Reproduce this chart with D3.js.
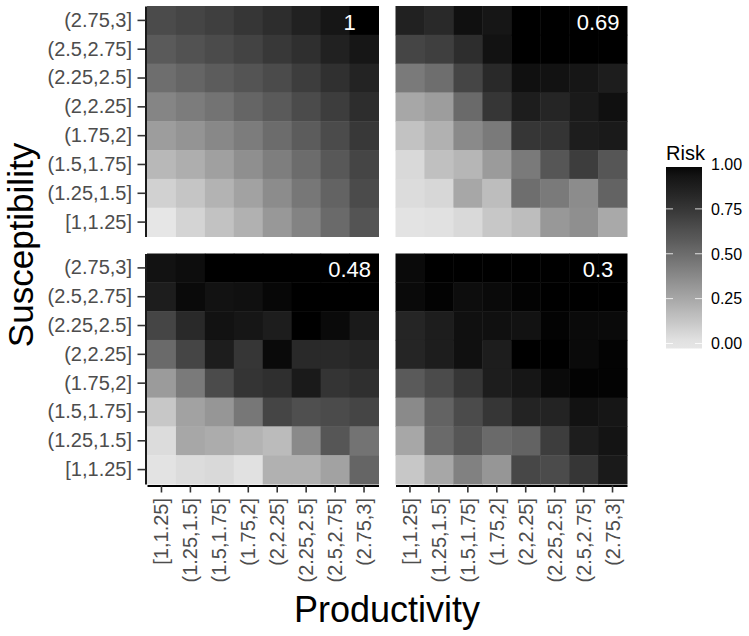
<!DOCTYPE html>
<html>
<head>
<meta charset="utf-8">
<script src="https://cdn.jsdelivr.net/npm/d3@7"></script>
<style>
  html, body { margin: 0; padding: 0; background: #fff; }
  svg { display: block; font-family: "Liberation Sans", Arial, sans-serif; }
</style>
</head>
<body>
<svg id="chart" width="749" height="636"></svg>
<script>
// ---- data ----
const prodLevels = ["[1,1.25]","(1.25,1.5]","(1.5,1.75]","(1.75,2]","(2,2.25]","(2.25,2.5]","(2.5,2.75]","(2.75,3]"];
const suscLevels = ["[1,1.25]","(1.25,1.5]","(1.5,1.75]","(1.75,2]","(2,2.25]","(2.25,2.5]","(2.5,2.75]","(2.75,3]"];
const panelLabels = ["1","0.69","0.48","0.3"];
const legendTicks = [0, 0.25, 0.5, 0.75, 1];

// rows listed from top (2.75,3] to bottom [1,1.25]; columns follow prodLevels
const risk_1 = [
  [0.65,0.68,0.71,0.75,0.80,0.86,0.92,1.00],
  [0.58,0.62,0.65,0.69,0.74,0.79,0.86,0.92],
  [0.49,0.53,0.57,0.61,0.65,0.72,0.78,0.85],
  [0.39,0.43,0.47,0.53,0.58,0.65,0.72,0.80],
  [0.29,0.33,0.38,0.43,0.50,0.57,0.65,0.74],
  [0.18,0.22,0.28,0.35,0.42,0.50,0.59,0.68],
  [0.08,0.13,0.20,0.27,0.36,0.45,0.54,0.65],
  [0.00,0.07,0.14,0.21,0.31,0.40,0.51,0.61]
];
const risk_069 = [
  [0.86,0.82,0.95,0.92,1.00,1.00,1.00,1.00],
  [0.68,0.71,0.80,0.94,1.00,1.00,1.00,1.00],
  [0.44,0.49,0.68,0.82,0.95,0.94,0.92,0.88],
  [0.25,0.29,0.51,0.75,0.88,0.84,0.90,0.95],
  [0.14,0.21,0.37,0.44,0.75,0.76,0.88,0.90],
  [0.05,0.15,0.19,0.30,0.44,0.60,0.72,0.60],
  [0.04,0.06,0.25,0.16,0.49,0.44,0.36,0.54],
  [0.01,0.02,0.05,0.12,0.16,0.31,0.35,0.24]
];
const risk_048 = [
  [0.94,0.96,1.00,1.00,1.00,1.00,1.00,1.00],
  [0.88,0.97,0.94,0.95,0.98,1.00,1.00,1.00],
  [0.68,0.82,0.94,0.92,0.88,1.00,0.97,0.90],
  [0.51,0.68,0.88,0.75,0.97,0.82,0.82,0.84],
  [0.30,0.44,0.65,0.76,0.79,0.90,0.76,0.79],
  [0.12,0.27,0.32,0.45,0.68,0.63,0.65,0.68],
  [0.04,0.25,0.23,0.20,0.17,0.37,0.60,0.47],
  [0.01,0.04,0.05,0.02,0.21,0.21,0.27,0.53]
];
const risk_03 = [
  [0.97,1.00,1.00,1.00,1.00,1.00,1.00,1.00],
  [0.97,0.99,0.96,0.97,0.99,1.00,1.00,1.00],
  [0.84,0.88,0.95,0.95,0.94,0.99,0.97,0.97],
  [0.84,0.88,0.95,0.88,1.00,1.00,0.97,0.99],
  [0.58,0.65,0.75,0.88,0.92,0.97,0.99,0.99],
  [0.37,0.54,0.65,0.75,0.85,0.85,0.94,0.92],
  [0.25,0.51,0.60,0.51,0.54,0.72,0.88,0.93],
  [0.12,0.25,0.41,0.32,0.67,0.65,0.75,0.90]
];
const panelData = [risk_1, risk_069, risk_048, risk_03];

// ---- layout ----
const svg = d3.select("#chart");
const leftM = 147, topM = 6, panelW = 231.5, panelH = 230.5, gap = 17;
const FONT = "'Liberation Sans', Arial, sans-serif";

const color = d3.scaleLinear().domain([0, 1]).range(["#e6e6e6", "#000000"])
  .interpolate(d3.interpolateLab).clamp(true);

const x = d3.scaleBand().domain(prodLevels).range([0, panelW]).padding(0);
const y = d3.scaleBand().domain(suscLevels.slice().reverse()).range([0, panelH]).padding(0);

panelData.forEach((rows, p) => {
  const col = p % 2, row = Math.floor(p / 2);
  const px = leftM + col * (panelW + gap);
  const py = topM + row * (panelH + gap);
  const g = svg.append("g").attr("transform", `translate(${px},${py})`);

  const cells = [];
  rows.forEach((r, i) => r.forEach((v, j) => {
    cells.push({ prod: prodLevels[j], susc: suscLevels[7 - i], v });
  }));

  g.selectAll("rect.cell").data(cells).join("rect")
    .attr("class", "cell")
    .attr("x", d => x(d.prod))
    .attr("y", d => y(d.susc))
    .attr("width", x.bandwidth() + 0.5)
    .attr("height", y.bandwidth() + 0.5)
    .attr("fill", d => color(d.v));

  g.append("text")
    .attr("x", x(prodLevels[7]))
    .attr("y", y(suscLevels[7]) + 23.5)
    .attr("text-anchor", "middle")
    .attr("fill", "#fff")
    .style("font-family", FONT)
    .style("font-size", "22px")
    .text(panelLabels[p]);

  if (col === 0) {
    const ax = svg.append("g").attr("transform", `translate(${px - 1.5},${py})`)
      .call(d3.axisLeft(y).tickSize(8).tickPadding(5.5).tickSizeOuter(0));
    ax.select(".domain").attr("stroke", "#000").attr("stroke-width", 1.8);
    ax.selectAll(".tick line").attr("stroke", "#333").attr("stroke-width", 1.6);
    ax.selectAll(".tick text").attr("fill", "#4d4d4d")
      .style("font-family", FONT).style("font-size", "20px");
  }
  if (row === 1) {
    const ax = svg.append("g").attr("transform", `translate(${px},${py + panelH + 1.5})`)
      .call(d3.axisBottom(x).tickSize(7).tickPadding(5).tickSizeOuter(0));
    ax.select(".domain").attr("stroke", "#000").attr("stroke-width", 1.8);
    ax.selectAll(".tick line").attr("stroke", "#333").attr("stroke-width", 1.6);
    ax.selectAll(".tick text")
      .attr("fill", "#4d4d4d")
      .attr("transform", "rotate(-90)")
      .attr("x", -12.5).attr("y", 0).attr("dy", "0.35em")
      .attr("text-anchor", "end")
      .style("font-family", FONT).style("font-size", "20px");
  }
});

// axis titles
svg.append("text")
  .attr("x", leftM + panelW + gap / 2).attr("y", 622)
  .attr("text-anchor", "middle")
  .style("font-family", FONT).style("font-size", "36px")
  .attr("fill", "#000")
  .text("Productivity");

svg.append("text")
  .attr("transform", `translate(33,${topM + panelH + gap / 2}) rotate(-90)`)
  .attr("text-anchor", "middle")
  .style("font-family", FONT).style("font-size", "35px")
  .attr("fill", "#000")
  .text("Susceptibility");

// legend
const lx = 666, lw = 36;
const ly = d3.scaleLinear().domain([0, 1]).range([343.5, 164]);
const defs = svg.append("defs");
const grad = defs.append("linearGradient").attr("id", "riskgrad")
  .attr("x1", 0).attr("y1", 1).attr("x2", 0).attr("y2", 0);
const barTop = ly(1) + 3, barBot = ly(0) + 5;
d3.range(0, 1.0001, 0.05).forEach(t => {
  const v = ly.invert(barBot + (barTop - barBot) * t);
  grad.append("stop").attr("offset", t).attr("stop-color", color(v));
});
svg.append("rect").attr("x", lx).attr("y", barTop).attr("width", lw)
  .attr("height", barBot - barTop).attr("fill", "url(#riskgrad)");

const lg = svg.append("g");
lg.selectAll("line.tl").data(legendTicks).join("line")
  .attr("class", "tl")
  .attr("x1", lx).attr("x2", lx + 7)
  .attr("y1", d => ly(d)).attr("y2", d => ly(d))
  .attr("stroke", "#fff").attr("stroke-opacity", 0.8).attr("stroke-width", 1);
lg.selectAll("line.tr").data(legendTicks).join("line")
  .attr("class", "tr")
  .attr("x1", lx + lw - 7).attr("x2", lx + lw)
  .attr("y1", d => ly(d)).attr("y2", d => ly(d))
  .attr("stroke", "#fff").attr("stroke-opacity", 0.8).attr("stroke-width", 1);
lg.selectAll("text").data(legendTicks).join("text")
  .attr("x", 711).attr("y", d => ly(d)).attr("dy", "0.36em")
  .style("font-family", FONT).style("font-size", "16px")
  .attr("fill", "#000")
  .text(d => d3.format(".2f")(d));

svg.append("text").attr("x", lx).attr("y", 160)
  .style("font-family", FONT).style("font-size", "20px")
  .attr("fill", "#000")
  .text("Risk");
</script>
</body>
</html>
